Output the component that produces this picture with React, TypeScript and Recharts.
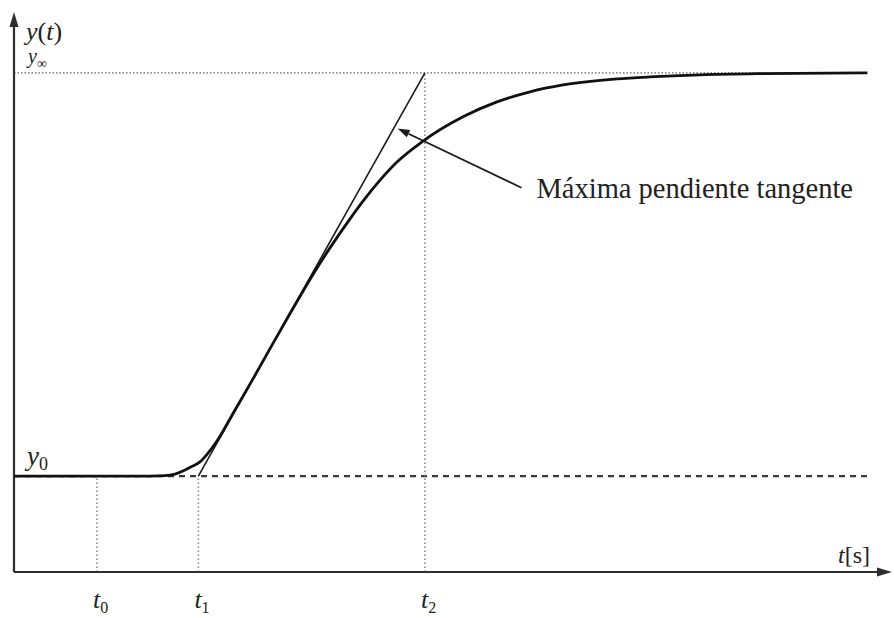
import React from 'react';
import { ComposedChart, Line, XAxis, YAxis, ReferenceLine, ReferenceDot } from 'recharts';

// Axis domains (normalized response: y0 = 0, y∞ = 1)
const T_MIN = 0;
const T_MAX = 10;
const Y_MIN = -0.238;
const Y_MAX = 1.151;
const Y0 = 0;
const YINF = 1;
const T_END = 9.72;

// Step response curve
const curveT = [0, 0.945, 1.549, 1.72, 1.834, 1.948, 2.027, 2.118, 2.21, 2.312, 2.517, 2.688, 2.916, 3.144, 3.451, 3.599, 3.827, 3.975, 4.169, 4.362, 4.647, 5.114, 5.501, 5.877, 6.253, 6.868, 7.244, 7.813, 8.497, 9.72];
const curveY = [0, 0, 0, 0.001, 0.005, 0.015, 0.024, 0.035, 0.057, 0.087, 0.164, 0.228, 0.316, 0.403, 0.516, 0.566, 0.638, 0.682, 0.734, 0.779, 0.829, 0.891, 0.928, 0.953, 0.97, 0.985, 0.99, 0.995, 0.998, 1.0];

// Marked instants t0, t1, t2
const markT = [0.945, 2.1, 4.68];
const markNames = ['0', '1', '2'];
const markTop = [Y0, Y0, YINF];

// Tangent of maximum slope
const tangentT = [2.1, 4.68];
const tangentY = [Y0, YINF];

// Annotation
const noteFrom = { t: 5.78, y: 0.715 };
const noteTo = { t: 4.37, y: 0.862 };
const noteText = 'Máxima pendiente tangente';

const curveData = curveT.map((t, i) => ({ t, y: curveY[i] }));
const tangentData = tangentT.map((t, i) => ({ t, y: tangentY[i] }));

const SERIF = "'Liberation Serif', 'DejaVu Serif', serif";
const AXIS = '#2e2e2e';
const TXT = { fontFamily: SERIF };

const arrowShape = (head: number, half: number, width: number, color: string) => (props: any) => {
  const { x1, y1, x2, y2 } = props;
  const ang = Math.atan2(y2 - y1, x2 - x1);
  const bx = x2 - head * Math.cos(ang);
  const by = y2 - head * Math.sin(ang);
  const px = -Math.sin(ang) * half;
  const py = Math.cos(ang) * half;
  return (
    <g>
      <line x1={x1} y1={y1} x2={bx} y2={by} stroke={color} strokeWidth={width} />
      <polygon points={`${x2},${y2} ${bx + px},${by + py} ${bx - px},${by - py}`} fill={color} />
    </g>
  );
};

const TTick = (props: any) => {
  const { x, y, payload } = props;
  const i = markT.indexOf(payload.value);
  return (
    <text x={x - 4} y={y + 36} style={TXT} fontSize={26} fill="#222">
      <tspan fontStyle="italic">t</tspan>
      <tspan fontSize={16} dy={5}>{markNames[i]}</tspan>
    </text>
  );
};

export default function App() {
  return (
    <div style={{ position: 'absolute', left: 0, top: 0, width: 894, height: 618, background: '#fff' }}>
      <ComposedChart width={894} height={618} margin={{ top: 12, right: 2, bottom: 6, left: 14 }}>
        <XAxis
          dataKey="t"
          type="number"
          domain={[T_MIN, T_MAX]}
          allowDataOverflow
          ticks={markT}
          interval={0}
          axisLine={false}
          tickLine={false}
          tickSize={0}
          tickMargin={0}
          height={40}
          tick={<TTick />}
        />
        <YAxis type="number" domain={[Y_MIN, Y_MAX]} allowDataOverflow hide />

        {/* y∞ dotted level */}
        <ReferenceLine
          segment={[{ x: T_MIN, y: YINF }, { x: T_END, y: YINF }]}
          stroke="#8a8a8a"
          strokeWidth={1.6}
          strokeDasharray="1.5 2"
          ifOverflow="visible"
        />
        {/* y0 dashed level */}
        <ReferenceLine
          segment={[{ x: T_MIN, y: Y0 }, { x: T_END, y: Y0 }]}
          stroke="#3a3a3a"
          strokeWidth={2.2}
          strokeDasharray="6 5"
          ifOverflow="visible"
        />
        {/* vertical dotted markers */}
        {markT.map((t, i) => (
          <ReferenceLine
            key={'m' + i}
            segment={[{ x: t, y: Y_MIN }, { x: t, y: markTop[i] }]}
            stroke="#8a8a8a"
            strokeWidth={1.6}
            strokeDasharray="1.5 2.5"
            ifOverflow="visible"
          />
        ))}

        {/* axes with arrows */}
        <ReferenceLine
          segment={[{ x: T_MIN, y: Y_MIN }, { x: T_MIN, y: Y_MAX }]}
          ifOverflow="visible"
          shape={arrowShape(15, 4.5, 2.2, AXIS)}
        />
        <ReferenceLine
          segment={[{ x: T_MIN, y: Y_MIN }, { x: T_MAX, y: Y_MIN }]}
          ifOverflow="visible"
          shape={arrowShape(15, 4.5, 2.2, AXIS)}
        />

        <Line
          data={tangentData}
          dataKey="y"
          type="linear"
          stroke="#1a1a1a"
          strokeWidth={1.6}
          dot={false}
          activeDot={false}
          isAnimationActive={false}
        />
        <Line
          data={curveData}
          dataKey="y"
          type="monotone"
          stroke="#111"
          strokeWidth={2.8}
          dot={false}
          activeDot={false}
          isAnimationActive={false}
        />

        {/* annotation arrow */}
        <ReferenceLine
          segment={[{ x: noteFrom.t, y: noteFrom.y }, { x: noteTo.t, y: noteTo.y }]}
          ifOverflow="visible"
          shape={arrowShape(12, 4, 1.8, '#1a1a1a')}
        />
        <ReferenceDot
          x={noteFrom.t}
          y={noteFrom.y}
          ifOverflow="visible"
          shape={(p: any) => (
            <text x={p.cx + 15} y={p.cy + 10} style={TXT} fontSize={28.5} fill="#222">
              {noteText}
            </text>
          )}
        />

        {/* labels */}
        <ReferenceDot
          x={T_MIN}
          y={Y_MAX}
          ifOverflow="visible"
          shape={(p: any) => (
            <text x={p.cx + 12} y={p.cy + 28} style={TXT} fontSize={26} fill="#222">
              <tspan fontStyle="italic">y</tspan>
              <tspan>(</tspan>
              <tspan fontStyle="italic">t</tspan>
              <tspan>)</tspan>
            </text>
          )}
        />
        <ReferenceDot
          x={T_MIN}
          y={YINF}
          ifOverflow="visible"
          shape={(p: any) => (
            <text x={p.cx + 14} y={p.cy - 10} style={TXT} fontSize={20} fill="#222">
              <tspan fontStyle="italic">y</tspan>
              <tspan fontSize={14} dy={5}>∞</tspan>
            </text>
          )}
        />
        <ReferenceDot
          x={T_MIN}
          y={Y0}
          ifOverflow="visible"
          shape={(p: any) => (
            <text x={p.cx + 13} y={p.cy - 11} style={TXT} fontSize={27} fill="#222">
              <tspan fontStyle="italic">y</tspan>
              <tspan fontSize={18} dy={5}>0</tspan>
            </text>
          )}
        />
        <ReferenceDot
          x={T_MAX}
          y={Y_MIN}
          ifOverflow="visible"
          shape={(p: any) => (
            <text x={p.cx - 22} y={p.cy - 9} textAnchor="end" style={TXT} fontSize={24} fill="#222">
              <tspan fontStyle="italic">t</tspan>
              <tspan>[s]</tspan>
            </text>
          )}
        />
      </ComposedChart>
    </div>
  );
}
